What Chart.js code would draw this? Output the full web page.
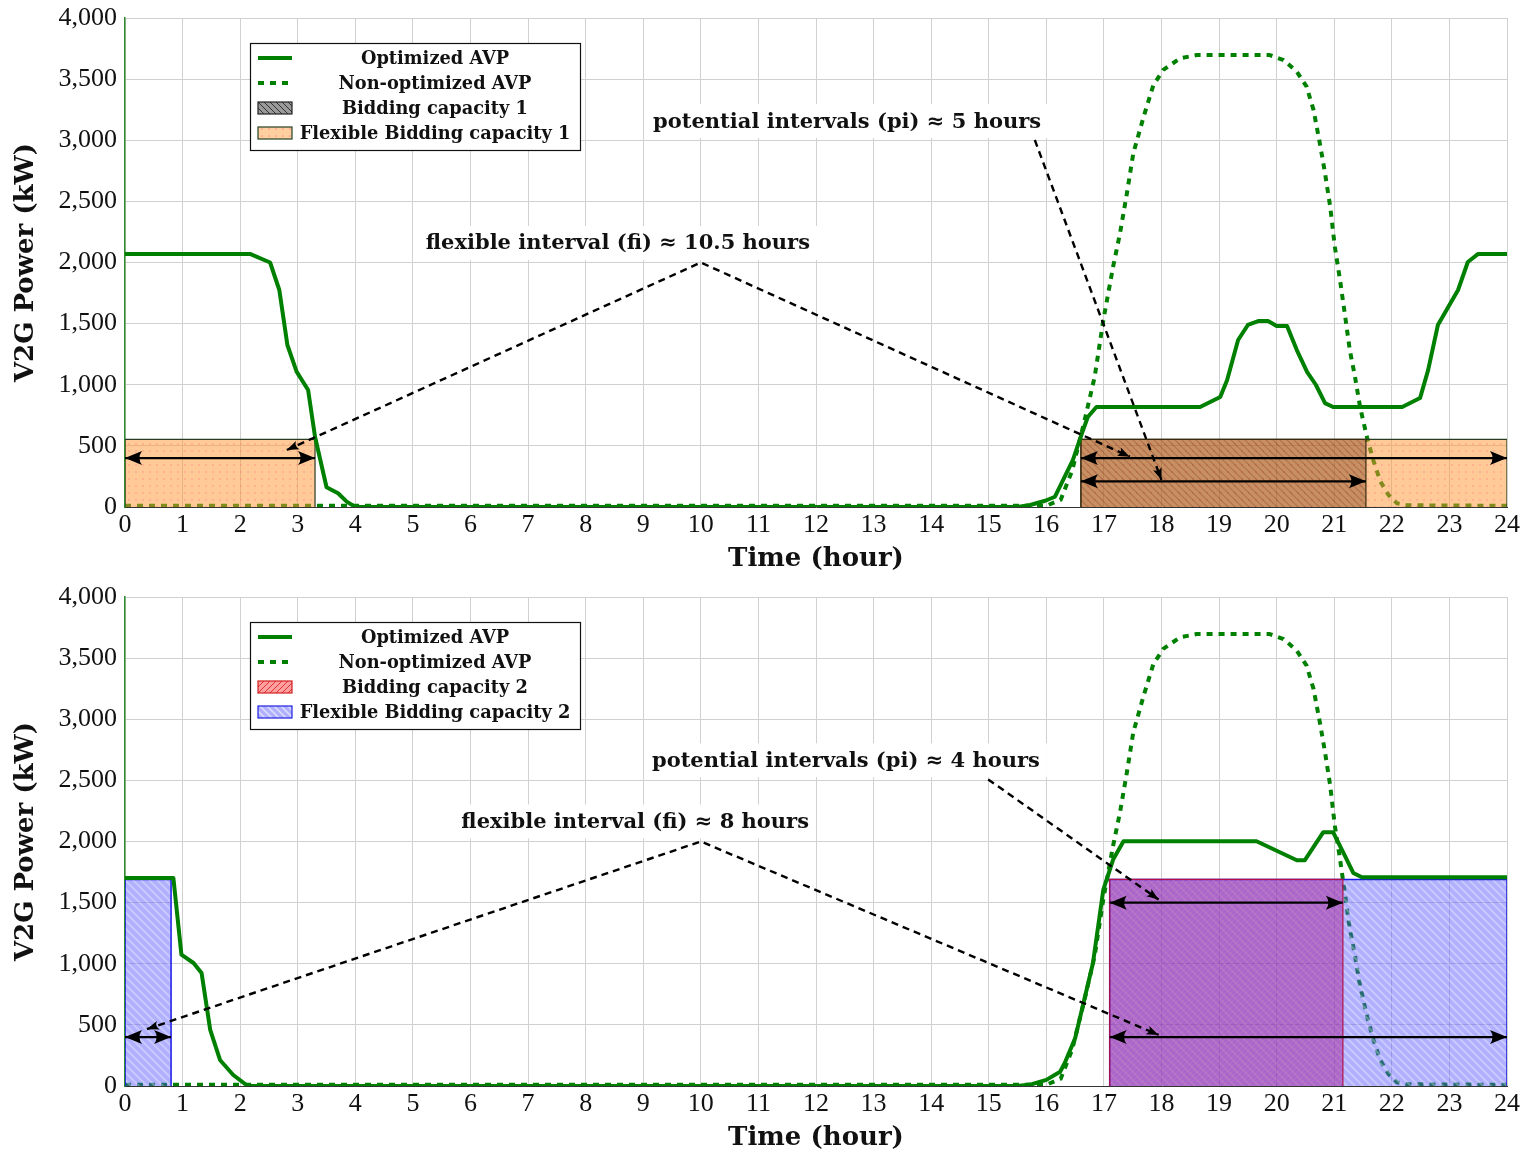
<!DOCTYPE html>
<html>
<head>
<meta charset="utf-8">
<script src="https://cdn.jsdelivr.net/npm/chart.js@4.4.1/dist/chart.umd.min.js"></script>
<style>
  html,body{margin:0;padding:0;background:#fff;}
  .panel{width:1526px;height:579px;position:relative;}
</style>
</head>
<body>
<div class="panel"><canvas id="chartTop" width="1526" height="579"></canvas></div>
<div class="panel"><canvas id="chartBottom" width="1526" height="579"></canvas></div>
<script>
/* ---------- data (hour, kW) ---------- */
const optimized1 = [[0,2070],[2.17,2070],[2.52,2000],[2.68,1775],[2.82,1325],[2.98,1107],[3.18,957],[3.3,575],
  [3.5,161],[3.7,112],[3.85,44],[4.0,0],[15.5,0],[15.72,16],[15.98,51],[16.15,84],[16.29,220],[16.46,384],
  [16.62,605],[16.72,736],[16.87,818],[18.67,818],[19.02,900],[19.14,1039],[19.33,1366],[19.5,1489],
  [19.68,1521],[19.85,1521],[20.0,1480],[20.18,1480],[20.35,1284],[20.53,1104],[20.68,1000],[20.84,850],
  [20.98,818],[22.18,818],[22.49,891],[22.63,1120],[22.8,1489],[23.15,1775],[23.32,2004],[23.5,2070],[24,2070]];

const optimized2 = [[0,1702],[0.84,1702],[0.98,1074],[1.19,1006],[1.33,924],[1.48,459],[1.65,213],[1.88,90],
  [2.11,8],[2.2,0],[15.5,0],[15.75,15],[16.0,50],[16.24,117],[16.32,188],[16.5,391],[16.81,1006],[16.99,1607],
  [17.16,1852],[17.34,2002],[19.65,2002],[20.35,1847],[20.49,1847],[20.81,2076],[20.98,2076],[21.16,1907],
  [21.33,1743],[21.48,1707],[24,1707]];

const nonOptimized = [[0,10],[16.0,10],[16.25,60],[16.45,300],[16.66,700],[16.84,1066],[16.99,1530],[17.16,1966],
  [17.28,2240],[17.4,2568],[17.51,2893],[17.69,3193],[17.86,3452],[18.03,3575],[18.32,3670],[18.61,3697],
  [19.88,3697],[20.12,3656],[20.35,3561],[20.52,3438],[20.64,3248],[20.75,2975],[20.84,2730],[20.93,2456],
  [21.01,2129],[21.1,1857],[21.19,1557],[21.27,1284],[21.36,1066],[21.45,814],[21.57,568],[21.68,380],
  [21.8,210],[21.94,100],[22.09,30],[22.26,14],[24,10]];

// bidding windows: [start hour, end hour], common height in kW
const flexible1Spans = [[0,3.3],[16.6,24]];
const bidding1Span = [16.6,21.55];
const capacity1Height = 553;
const flexible2Spans = [[0,0.8],[17.1,24]];
const bidding2Span = [17.1,21.15];
const capacity2Height = 1690;

// interval arrows (double headed)
const arrows1 = [[[0,400],[3.3,400]], [[16.6,400],[24,400]], [[16.6,210],[21.55,210]]];
const arrows2 = [[[0,400],[0.8,400]], [[17.1,400],[24,400]], [[17.1,1500],[21.15,1500]]];

// dashed pointers
const fiPointer1 = [[2.81,466],[10,2000],[17.45,412]];
const piPointer1 = [[15.8,3002],[18,221]];
const fiPointer2 = [[0.38,465],[10,2000],[17.95,418]];
const piPointer2 = [[14.99,2508],[17.95,1525]];

// annotation texts [text, hour, kW]
const notes1 = [['flexible interval (fi) \u2248 10.5 hours', 8.56, 2160], ['potential intervals (pi) \u2248 5 hours', 12.54, 3157]];
const notes2 = [['flexible interval (fi) \u2248 8 hours', 8.86, 2164], ['potential intervals (pi) \u2248 4 hours', 12.52, 2664]];

const legend1 = ['Optimized AVP', 'Non-optimized AVP', 'Bidding capacity 1', 'Flexible Bidding capacity 1'];
const legend2 = ['Optimized AVP', 'Non-optimized AVP', 'Bidding capacity 2', 'Flexible Bidding capacity 2'];

/* ---------- patterns ---------- */
function makePattern(size, bg, draw){
  const c = document.createElement('canvas');
  c.width = size; c.height = size;
  const g = c.getContext('2d');
  g.fillStyle = bg; g.fillRect(0,0,size,size);
  if(draw) draw(g, size);
  return g.createPattern(c, 'repeat');
}
function hatch(dir, color, w){
  return (g, s) => {
    g.strokeStyle = color; g.lineWidth = w;
    g.beginPath();
    if(dir === '\\'){
      g.moveTo(-1,-1); g.lineTo(s+1,s+1);
      g.moveTo(-1,s-1); g.lineTo(1,s+1);
      g.moveTo(s-1,-1); g.lineTo(s+1,1);
    } else {
      g.moveTo(-1,s+1); g.lineTo(s+1,-1);
      g.moveTo(-1,1); g.lineTo(1,-1);
      g.moveTo(s-1,s+1); g.lineTo(s+1,s-1);
    }
    g.stroke();
  };
}
function dots(color){
  return (g) => { g.fillStyle = color; g.fillRect(2,2,2,2); };
}

const pat = {
  flex1: makePattern(7, 'rgba(255,150,50,0.5)', dots('rgba(255,90,120,0.22)')),
  bid1: makePattern(7, 'rgba(118,55,18,0.4)', hatch('\\','rgba(90,20,10,0.22)',1.2)),
  flex2: makePattern(8, 'rgba(80,80,255,0.45)', hatch('\\','rgba(255,255,255,0.3)',2)),
  bid2: makePattern(5, 'rgba(160,30,150,0.5)', hatch('/','rgba(255,130,170,0.25)',1)),
  legBid1: makePattern(6, '#9a9a9a', hatch('\\','#333',1)),
  legFlex1: makePattern(7, '#ffcf9f', dots('rgba(255,120,140,0.35)')),
  legBid2: makePattern(6, '#ffa0a0', hatch('/','#e03030',1)),
  legFlex2: makePattern(7, '#b0b0ff', hatch('\\','rgba(255,255,255,0.6)',1.5)),
};

/* ---------- dataset helpers ---------- */
const toXY = arr => arr.map(p => ({x:p[0], y:p[1]}));

function lineSet(points, extra){
  return Object.assign({
    data: toXY(points), borderColor:'#008000', borderWidth:4, pointRadius:0,
    tension:0, fill:false, borderJoinStyle:'round',
  }, extra);
}
function rectSet(span, height, bg, border, bw, order){
  return {
    data: toXY([[span[0],0],[span[0],height],[span[1],height],[span[1],0]]),
    backgroundColor: bg, borderColor: border, borderWidth: bw, fill:'origin',
    pointRadius:0, tension:0, order,
  };
}

/* ---------- overlay: arrow heads, notes, legend ---------- */
function arrowHead(ctx, from, to, len, wid){
  const a = Math.atan2(to.y-from.y, to.x-from.x);
  ctx.save();
  ctx.translate(to.x, to.y); ctx.rotate(a);
  ctx.beginPath();
  ctx.moveTo(0,0);
  ctx.lineTo(-len, -wid/2);
  ctx.quadraticCurveTo(-len*0.7, 0, -len, wid/2);
  ctx.closePath();
  ctx.fillStyle = '#000'; ctx.fill();
  ctx.restore();
}

const overlayPlugin = {
  id:'overlay',
  afterDatasetsDraw(chart, args, opts){
    const ctx = chart.ctx, xs = chart.scales.x, ys = chart.scales.y, area = chart.chartArea;
    chart.data.datasets.forEach((ds, i) => {
      if(!ds.heads) return;
      const pts = chart.getDatasetMeta(i).data;
      const n = pts.length;
      if(ds.heads === 'both') arrowHead(ctx, pts[1], pts[0], ds.headLen, ds.headWid);
      arrowHead(ctx, pts[n-2], pts[n-1], ds.headLen, ds.headWid);
    });

    ctx.save();
    ctx.font = 'bold 21px "DejaVu Serif", serif';
    ctx.textAlign = 'center'; ctx.textBaseline = 'middle';
    opts.notes.forEach(n => {
      const x = xs.getPixelForValue(n[1]), y = ys.getPixelForValue(n[2]);
      const w = ctx.measureText(n[0]).width;
      ctx.fillStyle = '#fff';
      ctx.fillRect(x - w/2 - 7, y - 17, w + 14, 34);
      ctx.fillStyle = '#111';
      ctx.fillText(n[0], x, y + 1);
    });
    ctx.restore();

    // legend box
    const bx = area.left + 125, by = area.top + 25, bw = 330, bh = 107;
    ctx.save();
    ctx.fillStyle = '#fff'; ctx.fillRect(bx, by, bw, bh);
    ctx.strokeStyle = '#111'; ctx.lineWidth = 1.2; ctx.strokeRect(bx + 0.5, by + 0.5, bw, bh);
    ctx.font = 'bold 17.8px "DejaVu Serif", serif';
    ctx.textAlign = 'center'; ctx.textBaseline = 'middle';
    opts.legend.forEach((item, k) => {
      const cy = by + 15 + k*25, sx = bx + 8;
      if(k === 0){
        ctx.strokeStyle = '#008000'; ctx.lineWidth = 4; ctx.setLineDash([]);
        ctx.beginPath(); ctx.moveTo(sx, cy); ctx.lineTo(sx + 34, cy); ctx.stroke();
      } else if(k === 1){
        ctx.strokeStyle = '#008000'; ctx.lineWidth = 4; ctx.setLineDash([6,6]);
        ctx.beginPath(); ctx.moveTo(sx, cy); ctx.lineTo(sx + 34, cy); ctx.stroke();
        ctx.setLineDash([]);
      } else {
        const sw = opts.swatches[k-2];
        ctx.fillStyle = sw.fill; ctx.fillRect(sx, cy - 6, 34, 12);
        ctx.strokeStyle = sw.border; ctx.lineWidth = 1.2; ctx.strokeRect(sx, cy - 6, 34, 12);
      }
      ctx.fillStyle = '#111';
      ctx.fillText(item, bx + 185, cy + 1);
    });
    ctx.restore();
  }
};

/* ---------- chart factory ---------- */
function buildChart(canvasId, cfg){
  const ctx = document.getElementById(canvasId);
  const datasets = [
    lineSet(cfg.nonOpt, { borderDash:[6,6], borderCapStyle:'butt', order:6 }),
    lineSet(cfg.opt, { order:2 }),
  ];
  cfg.flexSpans.forEach(s => datasets.push(rectSet(s, cfg.height, cfg.flexFill, cfg.flexBorder, cfg.flexBorderW, 4)));
  datasets.push(rectSet(cfg.bidSpan, cfg.height, cfg.bidFill, cfg.bidBorder, 1.2, 3));
  cfg.pointers.forEach((p, i) => datasets.push(lineSet(p, {
    borderColor:'#000', borderWidth:2.4, borderDash:[7,5], order:1,
    heads: i === 0 ? 'both' : 'end', headLen:12, headWid:9,
  })));
  cfg.arrows.forEach(a => datasets.push(lineSet(a, {
    borderColor:'#000', borderWidth:2.4, order:0, heads:'both', headLen:17, headWid:14,
  })));

  return new Chart(ctx, {
    type:'line',
    data:{ datasets },
    options:{
      responsive:false,
      animation:false,
      devicePixelRatio:1,
      events:[],
      layout:{ padding:{ left:0, right:19, top:18, bottom:0 } },
      plugins:{
        legend:{ display:false },
        tooltip:{ enabled:false },
        overlay:{ notes: cfg.notes, legend: cfg.legend, swatches: cfg.swatches },
      },
      scales:{
        x:{
          type:'linear', min:0, max:24,
          ticks:{ stepSize:1, padding:3, color:'#111', font:{ family:"'Liberation Serif', serif", size:26 } },
          grid:{ color:'#d0d0d0', lineWidth:1, drawTicks:false },
          border:{ color:'#333', width:1 },
          title:{ display:true, text:'Time (hour)', color:'#111', padding:{ top:0, bottom:4 },
                  font:{ family:"'DejaVu Serif', serif", size:26, weight:'bold' } },
          afterFit(s){ s.height = 72; s.paddingLeft = 0; s.paddingRight = 0; },
        },
        y:{
          min:0, max:4000,
          ticks:{ stepSize:500, padding:8, color:'#111', font:{ family:"'Liberation Serif', serif", size:26 },
                  callback: v => v.toLocaleString('en-US') },
          grid:{ color:'#d0d0d0', lineWidth:1, drawTicks:false },
          border:{ color:'#2e8b2e', width:1.5 },
          title:{ display:true, text:'V2G Power (kW)', color:'#111', padding:{ top:11, bottom:0 },
                  font:{ family:"'DejaVu Serif', serif", size:26, weight:'bold' } },
          afterFit(s){ s.width = 125; s.paddingTop = 0; s.paddingBottom = 0; },
        },
      },
    },
    plugins:[overlayPlugin],
  });
}

buildChart('chartTop', {
  opt: optimized1, nonOpt: nonOptimized,
  flexSpans: flexible1Spans, bidSpan: bidding1Span, height: capacity1Height,
  flexFill: pat.flex1, flexBorder:'#2b3a22', flexBorderW:1.2,
  bidFill: pat.bid1, bidBorder:'#3a2a10',
  arrows: arrows1, pointers: [fiPointer1, piPointer1],
  notes: notes1, legend: legend1,
  swatches: [{ fill: pat.legBid1, border:'#222' }, { fill: pat.legFlex1, border:'#244024' }],
});

buildChart('chartBottom', {
  opt: optimized2, nonOpt: nonOptimized,
  flexSpans: flexible2Spans, bidSpan: bidding2Span, height: capacity2Height,
  flexFill: pat.flex2, flexBorder:'#1a1ae6', flexBorderW:1.5,
  bidFill: pat.bid2, bidBorder:'#b0104a',
  arrows: arrows2, pointers: [fiPointer2, piPointer2],
  notes: notes2, legend: legend2,
  swatches: [{ fill: pat.legBid2, border:'#d02020' }, { fill: pat.legFlex2, border:'#2020e0' }],
});
</script>
</body>
</html>
